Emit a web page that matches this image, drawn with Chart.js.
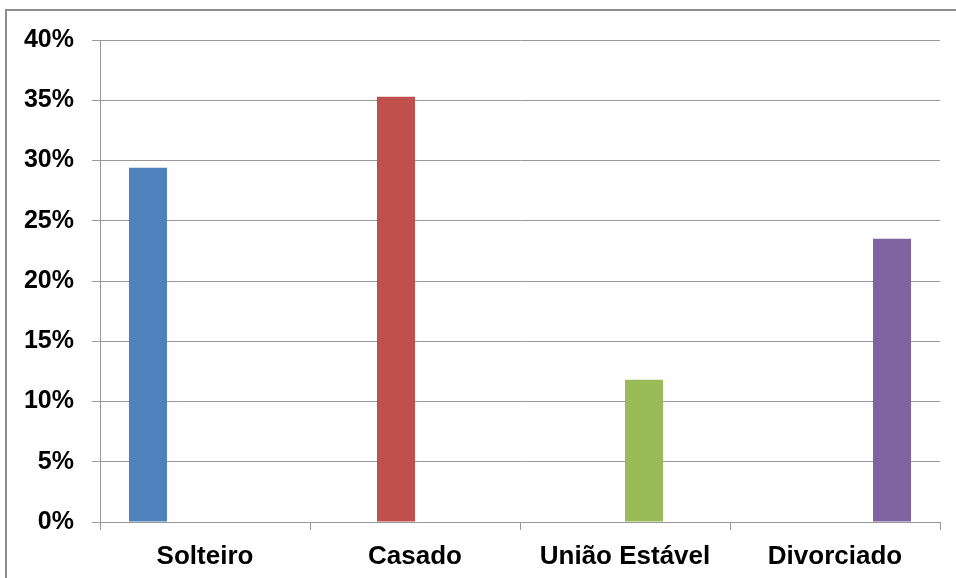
<!DOCTYPE html>
<html>
<head>
<meta charset="utf-8">
<script src="https://cdn.jsdelivr.net/npm/chart.js@4"></script>
<style>
  html, body { margin: 0; padding: 0; background: #fff; overflow: hidden; }
  #frame { position: absolute; left: 5px; top: 9px; width: 1000px; height: 700px; border: 2px solid #8c8c8c; }
  #chart { position: absolute; left: 0; top: 0; }
</style>
</head>
<body>
<div id="frame"></div>
<canvas id="chart" width="956" height="578"></canvas>
<script>
// estado civil, percent of respondents
let categories = ['Solteiro', 'Casado', 'União Estável', 'Divorciado'];
let values = [29.4, 35.3, 11.8, 23.5];
let colors = ['#4F81BD', '#C0504D', '#9BBB59', '#8064A2'];
let yTicks = [0, 5, 10, 15, 20, 25, 30, 35, 40];

// one series per category, like the spreadsheet had it
let datasets = categories.map(function(name, i){
  return {
    label: name,
    data: categories.map(function(c, j){ return j === i ? values[i] : null; }),
    backgroundColor: colors[i],
    barPercentage: 1,
    categoryPercentage: 0.724
  };
});

let fontFamily = '"Liberation Sans", Arial, sans-serif';
let gridColor = '#989898';

let ctx = document.getElementById('chart').getContext('2d');
let chart = new Chart(ctx, {
  type: 'bar',
  data: { labels: categories, datasets: datasets },
  options: {
    responsive: false,
    animation: false,
    layout: { padding: { left: 0, right: 16, top: 40, bottom: 0 } },
    plugins: { legend: { display: false }, tooltip: { enabled: false } },
    scales: {
      x: {
        grid: { drawOnChartArea: false, drawTicks: true, tickLength: 8, color: gridColor, offset: true },
        border: { color: gridColor },
        ticks: { color: '#000', font: { family: fontFamily, size: 26, weight: 'bold' }, padding: 11, maxRotation: 0 },
        afterFit: function(s){ s.height = 56; }
      },
      y: {
        min: 0,
        max: yTicks[yTicks.length - 1],
        afterBuildTicks: function(s){ s.ticks = yTicks.map(function(v){ return { value: v }; }); },
        grid: { color: gridColor, tickLength: 8 },
        border: { color: gridColor },
        ticks: { color: '#000', font: { family: fontFamily, size: 25, weight: 'bold' }, padding: 18, callback: function(v){ return v + '%'; } },
        afterFit: function(s){ s.width = 100; }
      }
    }
  }
});
</script>
</body>
</html>
